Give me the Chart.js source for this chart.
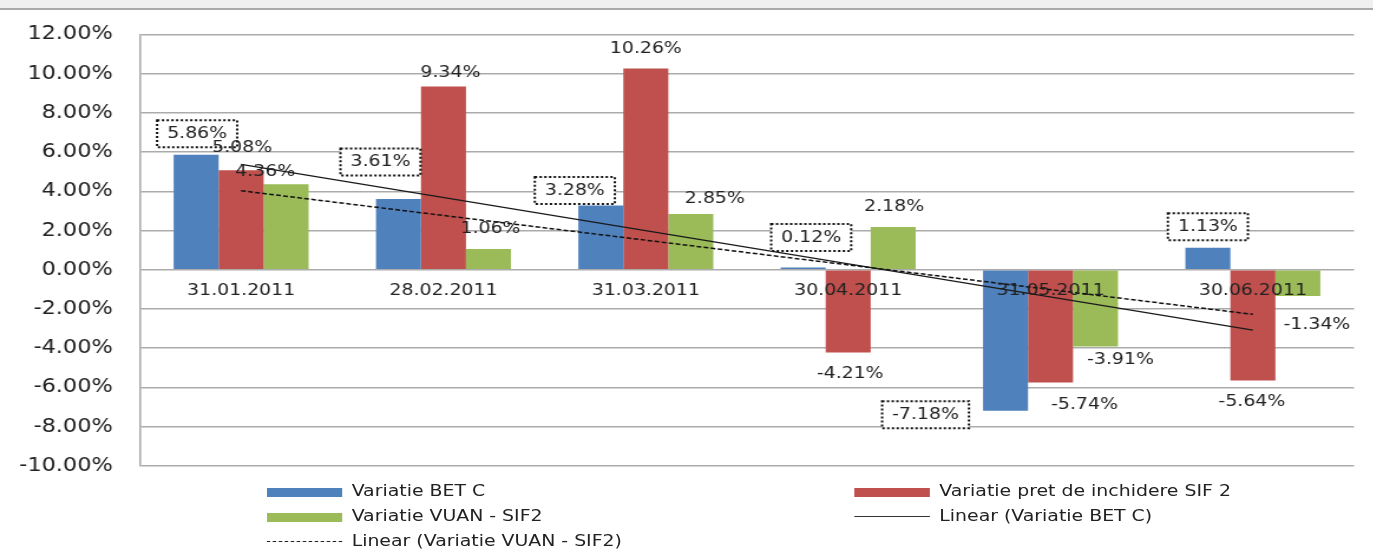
<!DOCTYPE html>
<html>
<head>
<meta charset="utf-8">
<script src="https://cdn.jsdelivr.net/npm/chart.js@4/dist/chart.umd.min.js"></script>
<style>
  html, body { margin: 0; padding: 0; background: #fff; overflow: hidden; }
  #stretch { position: absolute; left: 0; top: 0; width: 1164px; height: 551px;
             transform: scaleX(1.18); transform-origin: 0 0; }
  #frame { position: absolute; left: 0; top: 0; width: 1373px; height: 8px;
           background: #f0f0f0; border-bottom: 2px solid #a9a9a9; }
  .lg-swatch { position: absolute; }
  .lg-text { position: absolute; font: 16px "DejaVu Sans"; color: #222;
             white-space: nowrap; line-height: 20px; }
</style>
</head>
<body>
<div id="stretch">
  <canvas id="chart" width="1164" height="551"></canvas>
  <div id="legend"></div>
</div>
<div id="frame"></div>

<script>
/* =========================
   Data
   ========================= */

const categories = ['31.01.2011', '28.02.2011', '31.03.2011', '30.04.2011', '31.05.2011', '30.06.2011'];

const betC     = [5.86, 3.61, 3.28, 0.12, -7.18, 1.13];
const pretSif2 = [5.08, 9.34, 10.26, -4.21, -5.74, -5.64];
const vuanSif2 = [4.36, 1.06, 2.85, 2.18, -3.91, -1.34];

// trend lines: value at first and last category
const trendBetC = [5.38, -3.07];
const trendVuan = [4.03, -2.27];

const seriesNames = [
    'Variatie BET C',
    'Variatie pret de inchidere SIF 2',
    'Variatie VUAN - SIF2',
    'Linear (Variatie BET C)',
    'Linear (Variatie VUAN - SIF2)'
];

const yTicks = { min: -10, max: 12, step: 2 };

/* =========================
   Look
   ========================= */

const STRETCH = 1.18;   // picture is wider than it is drawn
const colors = ['#4f81bd', '#c0504d', '#9bbb59'];
const textColor = '#222';

// where each value label sits relative to its bar end (screen px)
const labelShift = [
    [[1, -21], [-18, -37], [-26, -15], [8, -30], [-80, 4], [0, -21]],
    [[1, -22], [7, -14], [0, -20], [2, 21], [34, 22], [-1, 21]],
    [[-21, -12], [2, -20], [24, -15], [1, -20], [25, 13], [19, 29]]
];
const boxedSeries = 0;

Chart.defaults.font.family = '"DejaVu Sans", Verdana, sans-serif';
Chart.defaults.color = textColor;

function trendData(ends) {
    return categories.map((c, i) => i === 0 ? ends[0] : (i === categories.length - 1 ? ends[1] : null));
}

const valueLabels = {
    id: 'valueLabels',
    afterDatasetsDraw(chart) {
        const ctx = chart.ctx;
        const xs = chart.scales.x, ys = chart.scales.y;
        const y0 = ys.getPixelForValue(0);
        ctx.save();
        ctx.font = '16px "DejaVu Sans"';
        ctx.textAlign = 'center';
        ctx.textBaseline = 'middle';
        ctx.fillStyle = textColor;
        categories.forEach((c, i) => ctx.fillText(c, xs.getPixelForValue(i), y0 + 21));

        [betC, pretSif2, vuanSif2].forEach((values, k) => {
            const meta = chart.getDatasetMeta(k);
            meta.data.forEach((bar, i) => {
                const [dx, dy] = labelShift[k][i];
                const x = bar.x + dx / STRETCH;
                const y = bar.y + dy;
                const text = values[i].toFixed(2) + '%';
                if (k === boxedSeries) {
                    const w = ctx.measureText(text).width + 17, h = 27;
                    ctx.fillStyle = '#fff';
                    ctx.fillRect(x - w / 2, y - h / 2, w, h);
                    ctx.setLineDash([2, 2]);
                    ctx.lineWidth = 2;
                    ctx.strokeStyle = '#111';
                    ctx.strokeRect(x - w / 2, y - h / 2, w, h);
                    ctx.setLineDash([]);
                }
                ctx.fillStyle = textColor;
                ctx.fillText(text, x, y);
            });
        });
        ctx.restore();
    }
};

const chart = new Chart(document.getElementById('chart'), {
    type: 'bar',
    data: {
        labels: categories,
        datasets: [
            { label: seriesNames[0], data: betC, backgroundColor: colors[0], order: 1 },
            { label: seriesNames[1], data: pretSif2, backgroundColor: colors[1], order: 1 },
            { label: seriesNames[2], data: vuanSif2, backgroundColor: colors[2], order: 1 },
            { type: 'line', label: seriesNames[3], data: trendData(trendBetC), borderColor: '#1a1a1a',
              borderWidth: 1.3, pointRadius: 0, spanGaps: true, tension: 0, order: 0 },
            { type: 'line', label: seriesNames[4], data: trendData(trendVuan), borderColor: '#111',
              borderWidth: 1.5, borderDash: [4, 2], pointRadius: 0, spanGaps: true, tension: 0, order: 0 }
        ]
    },
    options: {
        responsive: false,
        animation: false,
        layout: { padding: { left: 0, right: 16.5, top: 34, bottom: 85 } },
        datasets: { bar: { categoryPercentage: 0.667, barPercentage: 1 } },
        plugins: { legend: { display: false }, tooltip: { enabled: false } },
        scales: {
            x: { display: false },
            y: {
                min: yTicks.min,
                max: yTicks.max,
                ticks: {
                    stepSize: yTicks.step,
                    padding: 23,
                    color: textColor,
                    font: { size: 19 },
                    callback: v => v.toFixed(2) + '%'
                },
                grid: { color: '#ababab', lineWidth: 1.6, drawTicks: false },
                border: { color: '#ababab', width: 1.6 },
                afterFit(scale) { scale.width = 118.6; }
            }
        }
    },
    plugins: [valueLabels]
});

/* =========================
   Legend (two columns, like the sheet)
   ========================= */

const legendBox = document.getElementById('legend');
const colX = [226, 724];
const rowY = [492, 517, 542];

chart.data.datasets.forEach((ds, k) => {
    const col = k % 2, row = Math.floor(k / 2);
    const x = colX[col], y = rowY[row];
    const sw = document.createElement('div');
    sw.className = 'lg-swatch';
    sw.style.left = x + 'px';
    sw.style.width = '64px';
    if (ds.type === 'line') {
        sw.style.top = (y - 1) + 'px';
        sw.style.height = '0';
        sw.style.borderTop = ds.borderDash ? '1px dashed #222' : '1.5px solid #333';
    } else {
        sw.style.top = (y - 4.5) + 'px';
        sw.style.height = '9px';
        sw.style.background = ds.backgroundColor;
    }
    legendBox.appendChild(sw);

    const tx = document.createElement('div');
    tx.className = 'lg-text';
    tx.style.left = (x + 72) + 'px';
    tx.style.top = (y - 11) + 'px';
    tx.textContent = ds.label;
    legendBox.appendChild(tx);
});
</script>
</body>
</html>
